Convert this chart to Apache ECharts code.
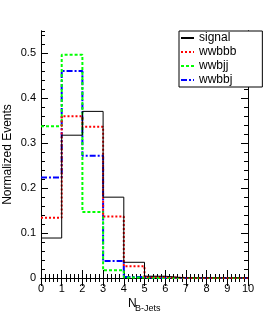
<!DOCTYPE html>
<html><head><meta charset="utf-8">
<script src="https://cdn.jsdelivr.net/npm/echarts@6/dist/echarts.min.js"></script>
<style>html,body{margin:0;padding:0;background:#fff}#c{width:276px;height:318px}</style>
</head><body><div id="c"></div>
<script>
const binEdges = [0,1,2,3,4,5,6,7,8,9,10];
const signal = [0.089, 0.318, 0.371, 0.180, 0.035, 0.004, 0, 0, 0, 0];
const wwbbb  = [0.134, 0.360, 0.337, 0.137, 0.026, 0.002, 0, 0, 0, 0];
const wwbjj  = [0.338, 0.497, 0.147, 0.017, 0.001, 0, 0, 0, 0, 0];
const wwbbj  = [0.224, 0.461, 0.272, 0.038, 0.002, 0, 0, 0, 0, 0];
const seriesNames = ['signal','wwbbb','wwbjj','wwbbj'];

function steps(vals){
  const d = vals.map((v,i)=>[binEdges[i], v]);
  d.push([binEdges[vals.length], vals[vals.length-1]]);
  return d;
}
const F = 'Liberation Sans, Arial, sans-serif';
const chart = echarts.init(document.getElementById('c'), null, {renderer:'canvas'});
const axLine = {show:true, lineStyle:{color:'#000', width:1}};
function yAx(pos, interval, len, labels){
  return {type:'value', position:pos, min:0, max:0.55, interval:interval,
    axisLine:axLine, splitLine:{show:false},
    axisTick:{show:true, inside:true, length:len, lineStyle:{color:'#000'}},
    axisLabel:{show:labels, showMaxLabel:false, color:'#000', fontSize:11, fontFamily:F, margin:5},
  };
}
const ya0 = yAx('left',0.1,7,true);
ya0.name = 'Normalized Events'; ya0.nameLocation='middle'; ya0.nameGap=27;
ya0.nameMoveOverlap = false;
ya0.nameTextStyle = {color:'#000', fontSize:12, fontFamily:F};
function xAx(pos, labels){
  return {type:'value', position:pos, min:0, max:10, interval:1,
    axisLine:axLine, splitLine:{show:false},
    axisTick:{show:true, inside:true, length:8, lineStyle:{color:'#000'}},
    minorTick:{show:true, splitNumber:5, length:4, lineStyle:{color:'#000'}},
    minorSplitLine:{show:false},
    axisLabel:{show:labels, color:'#000', fontSize:11, fontFamily:F, margin:5}
  };
}
const styles = [
  {color:'#000000', width:1, type:'solid'},
  {color:'#ff0000', width:2, type:[2,2]},
  {color:'#00ff00', width:2, type:[3,2]},
  {color:'#0000ff', width:2, type:[6,2,2,2]}
];
const datas = [signal, wwbbb, wwbjj, wwbbj];
chart.setOption({
  animation:false,
  backgroundColor:'#fff',
  grid:{left:41, right:28, top:31, bottom:40, containLabel:false, outerBoundsMode:'none'},
  xAxis:[xAx('bottom',true), xAx('top',false)],
  yAxis:[ya0, yAx('left',0.02,4,false), yAx('right',0.1,7,false), yAx('right',0.02,4,false)],
  legend:{orient:'vertical', left:179, top:31, padding:[1,26,1,1], itemGap:2,
    itemWidth:13, itemHeight:14, backgroundColor:'#fff', borderColor:'#000', borderWidth:1,
    borderRadius:0, textStyle:{color:'#000', fontSize:12, fontFamily:F}, data:seriesNames,
    itemStyle:{color:'rgba(0,0,0,0)', borderColor:'rgba(0,0,0,0)', borderWidth:0}},
  series: datas.map((d,i)=>({
    name:seriesNames[i], type:'line', step:'end', symbol:'none', data:steps(d),
    xAxisIndex:0, yAxisIndex:0, lineStyle:styles[i], itemStyle:{color:styles[i].color}, z: 10-i
  })),
  graphic:[
    {type:'text', left:128, top:298, style:{text:'N', font:'12px '+F, fill:'#000'}},
    {type:'text', left:135, top:304, style:{text:'B-Jets', font:'9px '+F, fill:'#000'}}
  ]
});
</script></body></html>
